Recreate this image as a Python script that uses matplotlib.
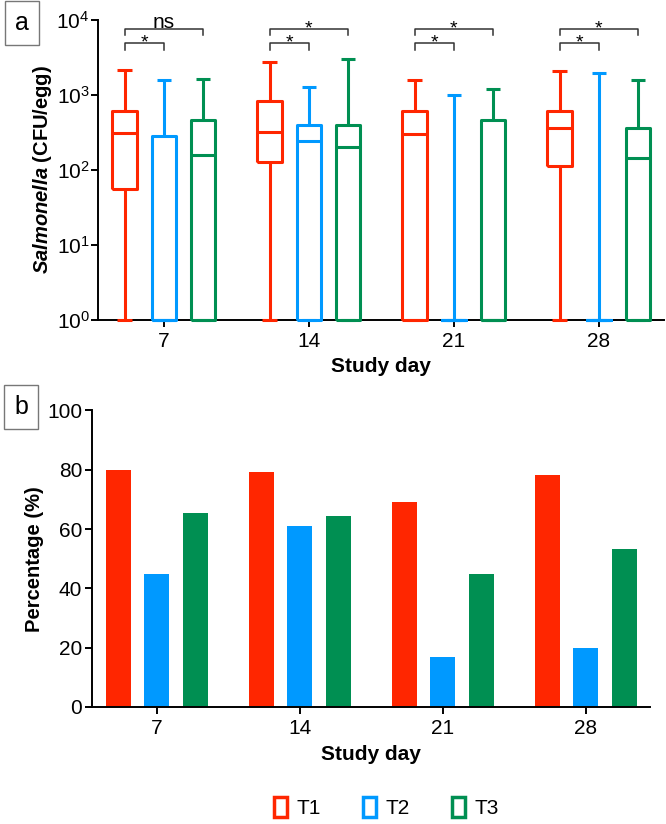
import numpy as np
import matplotlib
matplotlib.use('Agg')
from matplotlib import pyplot as plt
from matplotlib.patches import Patch

plt.rcParams['font.family'] = ['Liberation Sans', 'DejaVu Sans']
plt.rcParams['mathtext.fontset'] = 'custom'
plt.rcParams['mathtext.rm'] = 'Liberation Sans'
plt.rcParams['mathtext.it'] = 'Liberation Sans:italic'
plt.rcParams['mathtext.bf'] = 'Liberation Sans:bold'
plt.rcParams['mathtext.bfit'] = 'Liberation Sans:italic:bold'

days = ['7', '14', '21', '28']
groups = ['T1', 'T2', 'T3']
colors = ['#FF2600', '#0099FF', '#008F52']

# box summaries (CFU/egg) per group, one value per study day
whishi = {'T1': [2150, 2750, 1550, 2100],
          'T2': [1550, 1270, 980, 1950],
          'T3': [1630, 3000, 1180, 1580]}
q3 = {'T1': [600, 830, 610, 600],
      'T2': [285, 390, 1, 1],
      'T3': [465, 400, 465, 360]}
med = {'T1': [310, 315, 300, 355],
       'T2': [1, 245, 1, 1],
       'T3': [158, 200, 1, 145]}
q1 = {'T1': [55, 128, 1, 111],
      'T2': [1, 1, 1, 1],
      'T3': [1, 1, 1, 1]}
whislo = {'T1': [1, 1, 1, 1],
          'T2': [1, 1, 1, 1],
          'T3': [1, 1, 1, 1]}

sig_t2 = ['*', '*', '*', '*']
sig_t3 = ['ns', '*', '*', '*']

# percentage positive eggs
pct = {'T1': [80, 79.3, 69, 78.2],
       'T2': [45, 61, 16.8, 20],
       'T3': [65.5, 64.4, 45, 53.3]}

offsets = [-0.27, 0.0, 0.27]
x = np.arange(len(days))

fig = plt.figure(figsize=(6.66, 8.24), dpi=100)
ax1 = fig.add_axes([0.147, 0.612, 0.85, 0.364])
ax2 = fig.add_axes([0.138, 0.142, 0.838, 0.360])

# panel a
for g, c, off in zip(groups, colors, offsets):
    stats = []
    for i in range(len(days)):
        stats.append(dict(med=med[g][i], q1=q1[g][i], q3=q3[g][i],
                          whislo=whislo[g][i], whishi=whishi[g][i], fliers=[]))
    lp = dict(color=c, linewidth=2.2, solid_capstyle='butt', clip_on=False, zorder=3)
    ax1.bxp(stats, positions=x + off, widths=0.17, capwidths=0.1,
            showfliers=False, manage_ticks=False,
            boxprops=lp, whiskerprops=lp, capprops=lp, medianprops=lp)

ax1.set_yscale('log')
ax1.set_ylim(1, 1e4)
ax1.set_xlim(-0.455, 3.45)
ax1.set_xticks(x)
ax1.set_xticklabels(days)
ax1.set_yticks([1, 10, 100, 1000, 10000])
ax1.yaxis.set_minor_locator(matplotlib.ticker.NullLocator())
ax1.set_ylabel(r'$\mathbfit{Salmonella}$ (CFU/egg)', fontsize=14.5, fontweight='bold', labelpad=2)
ax1.set_xlabel('Study day', fontsize=15, fontweight='bold', labelpad=5)

for i in range(len(days)):
    xa, xb, xc = x[i] + offsets[0], x[i] + offsets[1], x[i] + offsets[2]
    ax1.plot([xa, xa, xb, xb], [3980, 4900, 4900, 3980], color='#333333', lw=1.1, clip_on=False)
    ax1.plot([xa, xa, xc, xc], [6300, 7600, 7600, 6300], color='#333333', lw=1.1, clip_on=False)
    ax1.text((xa + xb) / 2, 4240, sig_t2[i], ha='center', va='baseline', fontsize=14)
    if sig_t3[i] == 'ns':
        ax1.text((xa + xc) / 2, 7800, sig_t3[i], ha='center', va='baseline', fontsize=15, clip_on=False)
    else:
        ax1.text((xa + xc) / 2, 6580, sig_t3[i], ha='center', va='baseline', fontsize=14, clip_on=False)

# panel b
for g, c, off in zip(groups, colors, offsets):
    ax2.bar(x + off, pct[g], width=0.175, color=c, edgecolor='none')

ax2.set_ylim(0, 100)
ax2.set_xlim(-0.455, 3.45)
ax2.set_xticks(x)
ax2.set_xticklabels(days)
ax2.set_yticks(range(0, 101, 20))
ax2.set_ylabel('Percentage (%)', fontsize=14.5, fontweight='bold', labelpad=2)
ax2.set_xlabel('Study day', fontsize=15, fontweight='bold', labelpad=5)

for ax in (ax1, ax2):
    for s in ('top', 'right'):
        ax.spines[s].set_visible(False)
    for s in ('left', 'bottom'):
        ax.spines[s].set_linewidth(1.4)
    ax.tick_params(direction='out', length=5, width=1.4, labelsize=15)
ax1.tick_params(axis='y', pad=1)
ax2.tick_params(axis='y', pad=2)

# panel tags
fig.text(0.033, 0.972, 'a', fontsize=18, ha='center', va='center',
         bbox=dict(boxstyle='square,pad=0.4', fc='white', ec='#777777', lw=1))
fig.text(0.032, 0.506, 'b', fontsize=18, ha='center', va='center',
         bbox=dict(boxstyle='square,pad=0.4', fc='white', ec='#777777', lw=1))

handles = [Patch(facecolor='none', edgecolor=c, linewidth=2.5) for c in colors]
fig.legend(handles, groups, loc='center', bbox_to_anchor=(0.58, 0.02), ncol=3,
           frameon=False, fontsize=15, handlelength=0.65, handleheight=1.1,
           handletextpad=0.45, columnspacing=2.0)

fig.savefig('out.png', dpi=100)
